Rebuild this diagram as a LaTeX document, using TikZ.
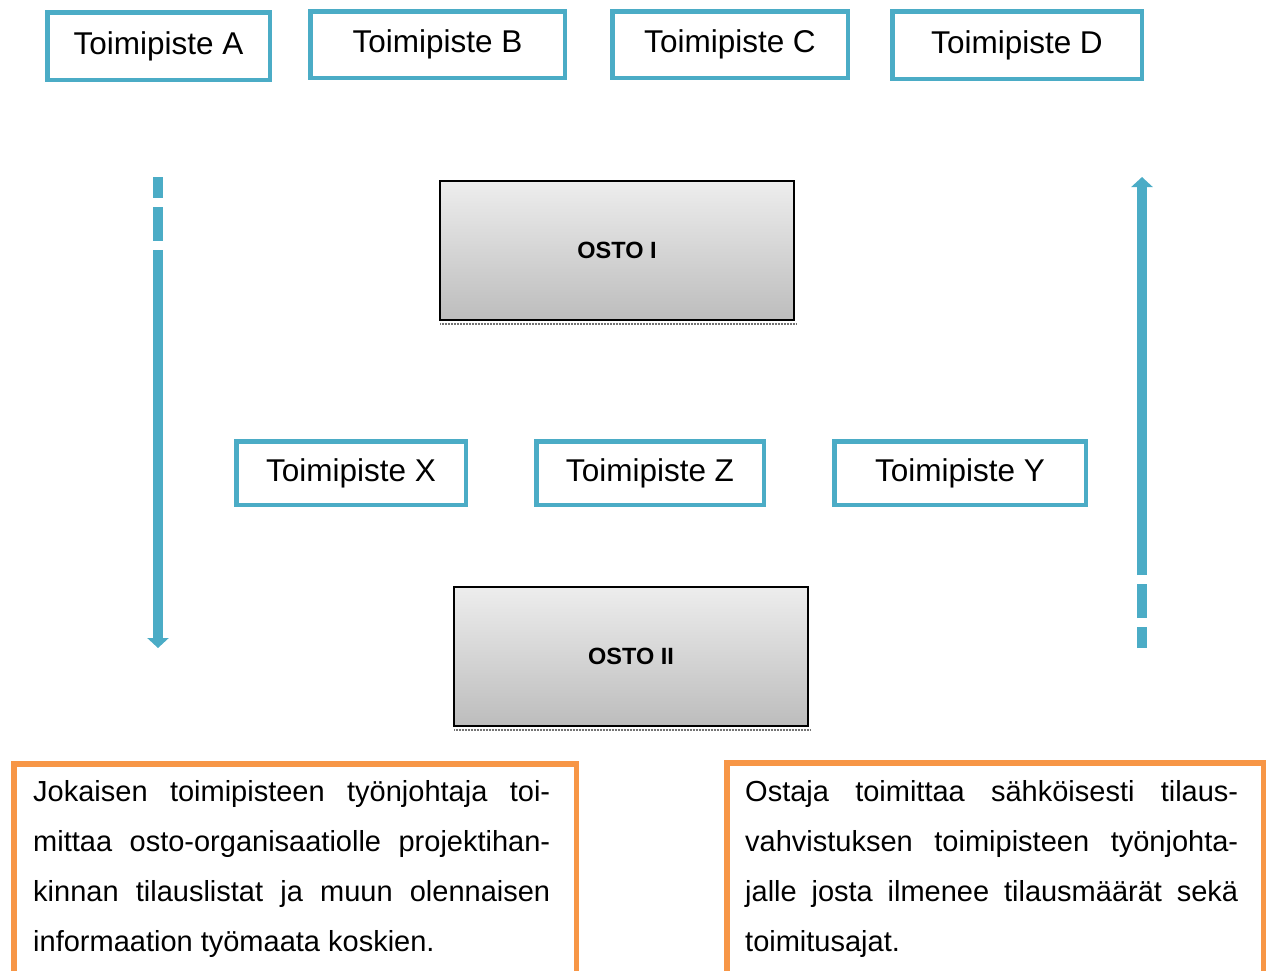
\documentclass[tikz,border=0pt]{standalone}
\usepackage{fontspec}
\setmainfont{Liberation Sans}
\usetikzlibrary{arrows.meta,calc}
\definecolor{tblue}{HTML}{4BACC6}
\definecolor{torange}{HTML}{F79646}
\begin{document}
\begin{tikzpicture}[x=1pt,y=-1pt,
  bluebox/.style={draw=tblue, line width=4.5pt, fill=white, rectangle, inner sep=0pt,
    font=\fontsize{31.5}{36}\selectfont},
  ostobox/.style={draw=black, line width=1.8pt, rectangle, inner sep=0pt,
    top color=black!7, bottom color=black!26, minimum width=354pt, minimum height=139pt,
    font=\fontsize{23.5}{28}\bfseries\selectfont},
  orangebox/.style={draw=torange, line width=5.5pt, rectangle, inner sep=0pt, anchor=north west},
  bodytext/.style={anchor=base west, inner sep=0pt, font=\fontsize{29}{50.3}\selectfont},
  flow/.style={draw=tblue, line width=10pt, -{Triangle[width=21pt,length=10pt]},
    dash pattern=on 21pt off 9pt on 34pt off 9pt on 600pt off 0pt},
  shadowline/.style={draw=black!55, line width=2.5pt, dash pattern=on 1pt off 0.5pt}
]
\useasboundingbox (0,0) rectangle (1269,970);

% top row
\node[bluebox, minimum width=222.5pt, minimum height=67.5pt] (A) at (158.5,46) {Toimipiste A};
\node[bluebox, minimum width=254.5pt, minimum height=66.5pt] (B) at (437.5,44.5) {Toimipiste B};
\node[bluebox, minimum width=235.5pt, minimum height=66.5pt] (C) at (730,44.5) {Toimipiste C};
\node[bluebox, minimum width=249.5pt, minimum height=67.5pt] (D) at (1017,45) {Toimipiste D};

% OSTO boxes
\node[ostobox] (o1) at (617,250.5) {OSTO I};
\draw[shadowline] ($(o1.south west)+(1,3)$) -- ($(o1.south east)+(1,3)$);
\node[ostobox] (o2) at (631,656.5) {OSTO II};
\draw[shadowline] ($(o2.south west)+(1,3)$) -- ($(o2.south east)+(1,3)$);

% middle row
\node[bluebox, minimum width=229.5pt, minimum height=63.5pt] (X) at (351,473) {Toimipiste X};
\node[bluebox, minimum width=227.5pt, minimum height=63.5pt] (Z) at (650,473) {Toimipiste Z};
\node[bluebox, minimum width=251.5pt, minimum height=63.5pt] (Y) at (960,473) {Toimipiste Y};

% arrows
\coordinate (ltop) at (158,177);
\coordinate (lbot) at (158,648);
\coordinate (rbot) at (1142,648);
\coordinate (rtop) at (1142,177);
\draw[flow] (ltop) -- (lbot);
\draw[flow] (rbot) -- (rtop);

% orange text boxes
\node[orangebox, minimum width=562.5pt, minimum height=240pt] (lbox) at (11,761) {};
\node[bodytext] (ltext) at (33,801) {\parbox[t]{517pt}{%
\makebox[517pt][s]{Jokaisen toimipisteen työnjohtaja toi-}\\
\makebox[517pt][s]{mittaa osto-organisaatiolle projektihan-}\\
\makebox[517pt][s]{kinnan tilauslistat ja muun olennaisen}\\
informaation työmaata koskien.}};

\node[orangebox, minimum width=536.5pt, minimum height=240pt] (rbox) at (724,760) {};
\node[bodytext] (rtext) at (745,801) {\parbox[t]{493pt}{%
\makebox[493pt][s]{Ostaja toimittaa sähköisesti tilaus-}\\
\makebox[493pt][s]{vahvistuksen toimipisteen työnjohta-}\\
\makebox[493pt][s]{jalle josta ilmenee tilausmäärät sekä}\\
toimitusajat.}};
\end{tikzpicture}
\end{document}
